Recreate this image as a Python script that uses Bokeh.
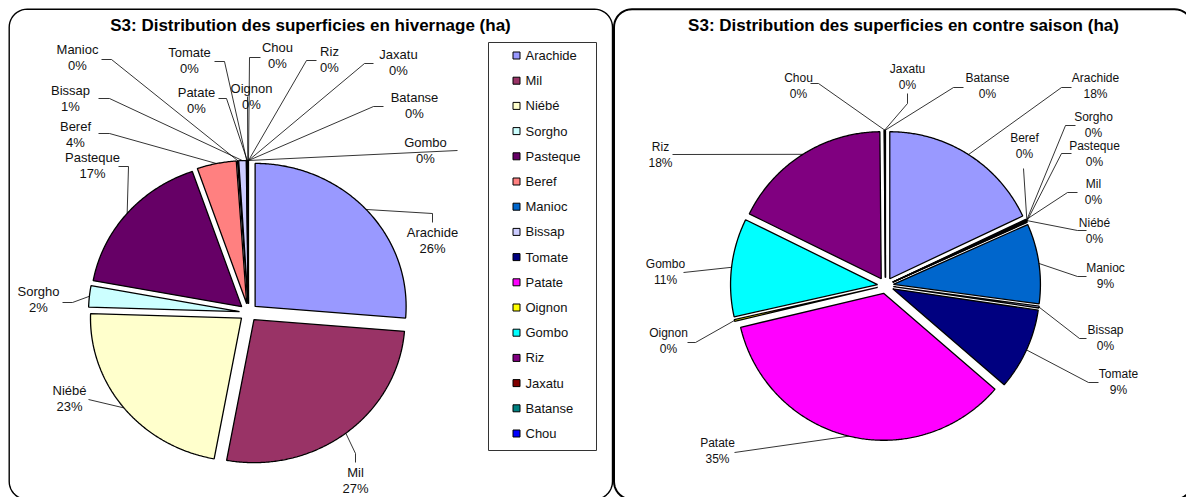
import numpy as np
from bokeh.plotting import figure
from bokeh.models import Range1d
from bokeh.embed import file_html
from bokeh.resources import INLINE
from bokeh.core.properties import value

# ---------------- data ----------------
crops = ["Arachide", "Mil", "Niébé", "Sorgho", "Pasteque", "Beref", "Manioc", "Bissap",
         "Tomate", "Patate", "Oignon", "Gombo", "Riz", "Jaxatu", "Batanse", "Chou"]
colors = ["#9999FF", "#993366", "#FFFFCC", "#CCFFFF", "#660066", "#FF8080", "#0066CC", "#CCCCFF",
          "#000080", "#FF00FF", "#FFFF00", "#00FFFF", "#800080", "#800000", "#008080", "#0000FF"]
# share of area (%) in hivernage and contre saison
hiv_pct = [26.3, 26.6, 22.6, 2.4, 16.8, 4.2, 0.1, 0.8, 0.05, 0.05, 0.05, 0.05, 0.0, 0.0, 0.0, 0.0]
cs_pct = [18.0, 0.1, 0.05, 0.05, 0.1, 0.05, 8.8, 0.2, 9.0, 35.0, 0.2, 10.8, 17.6, 0.05, 0.05, 0.05]
title_hiv = "S3: Distribution des superficies en hivernage (ha)"
title_cs = "S3: Distribution des superficies en contre saison (ha)"

# ---------------- layout (picture pixel coordinates) ----------------
FONT = value("Liberation Sans")

hiv_label_pos = {
    "Manioc": (77, 49), "Tomate": (189, 52), "Chou": (277, 47), "Riz": (329, 51),
    "Jaxatu": (398, 54), "Bissap": (70, 90), "Patate": (196, 92), "Oignon": (251, 88),
    "Batanse": (414, 97), "Beref": (75, 126), "Gombo": (425, 142), "Pasteque": (92, 157),
    "Arachide": (432, 232), "Sorgho": (38, 291), "Niébé": (69, 390), "Mil": (355, 472),
}
hiv_leader = {
    "Manioc": [(111, 59), (101, 59)], "Tomate": [(224, 61), (214, 61)],
    "Chou": [(249, 57), (260, 57)], "Riz": [(306, 60), (316, 60)],
    "Jaxatu": [(364, 63), (373, 63)], "Bissap": [(109, 98), (98, 98)],
    "Patate": [(226, 98), (218, 98)], "Oignon": [(247, 96)],
    "Batanse": [(373, 106), (383, 106)], "Beref": [(109, 133), (98, 133)],
    "Gombo": [(457, 150)], "Pasteque": [(128, 166), (118, 166)],
    "Arachide": [(432, 213), (432, 222)], "Sorgho": [(72, 302), (62, 302)],
    "Niébé": [(88, 399)], "Mil": [(355, 453), (355, 462)],
}
cs_label_pos = {
    "Chou": (798, 77), "Jaxatu": (907, 68), "Batanse": (987, 77), "Arachide": (1095, 77),
    "Sorgho": (1093, 116), "Beref": (1024, 137), "Pasteque": (1094, 145), "Mil": (1093, 183),
    "Niébé": (1094, 222), "Riz": (660, 146), "Manioc": (1105, 267), "Gombo": (665, 263),
    "Bissap": (1105, 329), "Oignon": (668, 332), "Tomate": (1118, 373), "Patate": (717, 442),
}
cs_leader = {
    "Chou": [(818, 83), (810, 83)], "Jaxatu": [(907, 103), (907, 93)],
    "Batanse": [(953, 87), (963, 87)], "Arachide": [(1061, 87), (1071, 87)],
    "Sorgho": [(1065, 125), (1075, 125)], "Beref": [(1023, 168)],
    "Pasteque": [(1061, 153), (1071, 153)], "Mil": [(1067, 192), (1077, 192)],
    "Niébé": [(1077, 230), (1086, 230)], "Riz": [(672, 154)],
    "Manioc": [(1077, 276), (1086, 276)], "Gombo": [(683, 272)],
    "Bissap": [(1079, 338), (1086, 338)], "Oignon": [(695, 342), (687, 342)],
    "Tomate": [(1088, 382), (1098, 382)], "Patate": [(734, 452)],
}

W, H = 1186, 497
p = figure(width=W, height=H, x_range=Range1d(0, W), y_range=Range1d(H, 0),
           output_backend="svg", toolbar_location=None, min_border=0,
           x_axis_location=None, y_axis_location=None)
p.grid.visible = False
p.outline_line_color = None
p.background_fill_color = "white"
p.border_fill_color = "white"


def rounded_rect(x0, y0, x1, y1, r, n=12):
    xs, ys = [], []
    corners = [(x1 - r, y0 + r, -90, 0), (x1 - r, y1 - r, 0, 90),
               (x0 + r, y1 - r, 90, 180), (x0 + r, y0 + r, 180, 270)]
    for cx, cy, a0, a1 in corners:
        t = np.radians(np.linspace(a0, a1, n))
        xs += list(cx + r * np.cos(t))
        ys += list(cy + r * np.sin(t))
    xs.append(xs[0]); ys.append(ys[0])
    return xs, ys


# panels
for (x0, x1, lw) in [(8.7, 612, 1.4), (613.5, 1192, 2.0)]:
    xs, ys = rounded_rect(x0, 8.7, x1, 499, 18)
    p.patch(xs, ys, fill_color="white", line_color="black", line_width=lw)


def draw_pie(vals, cx, cy, rx, ry, explode, label_pos, leader, fsize, gap):
    total = float(sum(vals))
    cum = 0.0
    names, pcts, lx, ly, px, py = [], [], [], [], [], []
    for i, v in enumerate(vals):
        a0 = 360.0 * cum / total
        a1 = 360.0 * (cum + v) / total
        cum += v
        mid = np.radians((a0 + a1) / 2)
        ox = explode * np.sin(mid)
        oy = -explode * np.cos(mid)
        if v > 0:
            t = np.radians(np.linspace(a0, a1, max(3, int((a1 - a0) * 2) + 2)))
            xs = [cx + ox] + list(cx + ox + rx * np.sin(t)) + [cx + ox]
            ys = [cy + oy] + list(cy + oy - ry * np.cos(t)) + [cy + oy]
            p.patch(xs, ys, fill_color=colors[i], line_color="black", line_width=1.3)
        sx = cx + ox + rx * np.sin(mid)
        sy = cy + oy - ry * np.cos(mid)
        name = crops[i]
        pts = leader[name]
        p.line([sx] + [q[0] for q in pts], [sy] + [q[1] for q in pts],
               line_color="black", line_width=0.8)
        x, y = label_pos[name]
        names.append(name); lx.append(x); ly.append(y)
        pcts.append("%d%%" % int(round(v / total * 100)))
        px.append(x); py.append(y + gap)
    p.text(x=lx + px, y=ly + py, text=names + pcts, text_font=FONT, text_font_size=fsize,
           text_align="center", text_baseline="middle", text_color="#111111")


draw_pie(hiv_pct, 248, 312, 151, 143, 9, hiv_label_pos, hiv_leader, "13px", 16)
draw_pie(cs_pct, 885, 285, 147, 147, 8, cs_label_pos, cs_leader, "12px", 16.5)

# titles
p.text(x=[310, 903], y=[25, 25], text=[title_hiv, title_cs], text_font=FONT,
       text_font_size="17px", text_font_style="bold", text_align="center",
       text_baseline="middle", text_color="black")

# legend of the left chart
p.quad(left=[488], right=[596], top=[42], bottom=[450], fill_color="white",
       line_color="#333333", line_width=1)
leg_y = [55 + 25.2 * i for i in range(len(crops))]
p.scatter(x=[516] * len(crops), y=leg_y, marker="square", size=7, fill_color=colors,
          line_color="black", line_width=1)
p.text(x=[525] * len(crops), y=leg_y, text=crops, text_font=FONT, text_font_size="13px",
       text_align="left", text_baseline="middle", text_color="#111111")

open("out.html", "w").write(file_html(p, INLINE))
